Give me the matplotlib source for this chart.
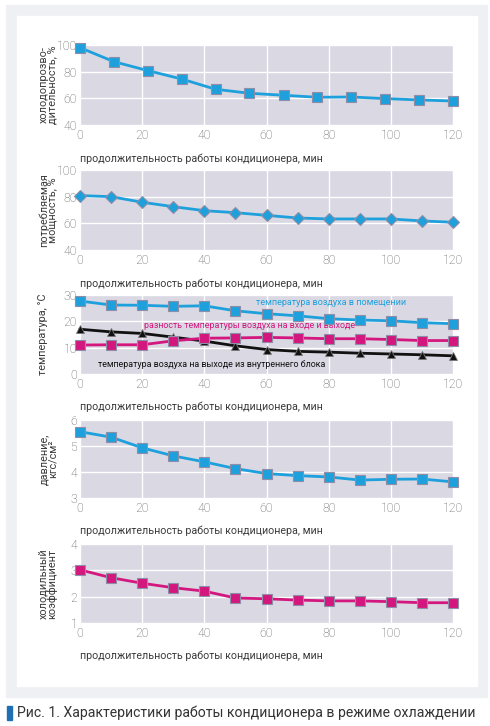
import matplotlib
matplotlib.use("Agg")
import matplotlib.pyplot as plt
from matplotlib.patches import Rectangle
import numpy as np

# ---- data ----
t12 = [0, 10.9, 21.8, 32.7, 43.6, 54.5, 65.5, 76.4, 87.3, 98.2, 109.1, 120]
t13 = [0, 10, 20, 30, 40, 50, 60, 70, 80, 90, 100, 110, 120]

cooling_capacity = [98, 87.5, 80.8, 74.5, 66.8, 63.8, 62.3, 60.8, 61, 59.8, 58.8, 58]
power_consumption = [80.8, 80, 75.8, 72.5, 69.5, 68, 66, 64, 63.3, 63.3, 63.3, 61.8, 60.8]
room_temp = [27.7, 26.2, 26.1, 25.7, 25.9, 24.0, 22.9, 22.1, 21.0, 20.5, 20.2, 19.5, 19.1]
temp_diff = [11.0, 11.1, 11.1, 12.6, 13.6, 13.7, 13.9, 13.7, 13.4, 13.4, 13.1, 12.7, 12.7]
outlet_temp = [17.0, 16.0, 15.4, 14.0, 12.5, 10.7, 9.3, 8.6, 8.3, 7.9, 7.6, 7.3, 6.9]
pressure = [5.55, 5.34, 4.93, 4.62, 4.39, 4.13, 3.94, 3.86, 3.81, 3.69, 3.72, 3.73, 3.62]
cop = [3.02, 2.72, 2.51, 2.34, 2.21, 1.95, 1.92, 1.87, 1.84, 1.84, 1.81, 1.77, 1.77]

xticks = [0, 20, 40, 60, 80, 100, 120]
xlabel = "продолжительность работы кондиционера, мин"
caption = "Рис. 1. Характеристики работы кондиционера в режиме охлаждении"

W, H = 490, 726
BLUE = "#1ea0dc"
PINK = "#d4177e"
BG = "#d9d8e3"
EDGE = "#8e8ea6"
TXT = "#3a3a3a"
TICK = "#5a5a5a"
plt.rcParams["font.family"] = ["Roboto", "DejaVu Sans"]

fig = plt.figure(figsize=(W / 100, H / 100), dpi=100)

def px_rect(x0, y0, x1, y1):
    return [x0 / W, 1 - y1 / H, (x1 - x0) / W, (y1 - y0) / H]

# background panels
fig.patches.append(Rectangle((6 / W, 1 - 697 / H), 481 / W, 692 / H,
                             transform=fig.transFigure, color="#eef0f4", zorder=-10))
fig.patches.append(Rectangle((17 / W, 1 - 686 / H), 460 / W, 670 / H,
                             transform=fig.transFigure, color="white", zorder=-9))

def make_ax(y0, y1, ylim, yticks, ylabel, ylabel_x):
    ax = fig.add_axes(px_rect(80, y0, 453, y1))
    ax.set_facecolor(BG)
    ax.set_xlim(0, 120)
    ax.set_ylim(*ylim)
    ax.set_xticks(xticks)
    ax.set_yticks(yticks)
    for s in ax.spines.values():
        s.set_visible(False)
    ax.tick_params(length=0, labelsize=8.8, labelcolor=TICK, pad=2)
    ax.tick_params(axis="x", pad=3)
    ax.grid(True, color="white", linewidth=1.0)
    ax.set_axisbelow(True)
    for lab in ax.get_xticklabels() + ax.get_yticklabels():
        lab.set_fontweight("light")
    ax.text(0, -0.42, xlabel, transform=ax.transAxes, fontsize=7.7,
            color=TXT, ha="left", va="center")
    fig.text(ylabel_x / W, 1 - ((y0 + y1) / 2) / H, ylabel, rotation=90,
             ha="center", va="center", fontsize=7.8, color=TXT, linespacing=0.85)
    return ax

mk = dict(markeredgecolor=EDGE, markeredgewidth=0.8, linewidth=2, clip_on=False)

ax1 = make_ax(45, 125, (40, 100), [40, 60, 80, 100], "холодопрозво-\nдительность, %", 48)
ax1.plot(t12, cooling_capacity, color=BLUE, marker="s", markersize=6.5,
         markerfacecolor=BLUE, **mk)

ax2 = make_ax(170, 250, (40, 100), [40, 60, 80, 100], "потребляемая\nмощность, %", 48)
ax2.plot(t13, power_consumption, color=BLUE, marker="D", markersize=6,
         markerfacecolor=BLUE, **mk)

ax3 = make_ax(295, 374, (0, 30), [0, 10, 20, 30], "температура, °С", 43)
ax3.plot(t13, outlet_temp, color="#111111", marker="^", markersize=6,
         markerfacecolor="#111111", markeredgecolor="#777777",
         markeredgewidth=0.6, linewidth=2, clip_on=False, zorder=3)
ax3.plot(t13, temp_diff, color=PINK, marker="s", markersize=6.5,
         markerfacecolor=PINK, zorder=4, **mk)
ax3.plot(t13, room_temp, color=BLUE, marker="s", markersize=6.5,
         markerfacecolor=BLUE, zorder=4, **mk)
ax3.text(80.8, 27.1, "температура воздуха в помещении", color=BLUE,
         fontsize=6.5, ha="center", va="center")
ax3.text(54.5, 18.4, "разность температуры воздуха на входе и выходе", color=PINK,
         fontsize=6.4, ha="center", va="center")
ax3.text(42.3, 3.5, "температура воздуха на выходе из внутреннего блока",
         color="#111111", fontsize=6.4, ha="center", va="center")

ax4 = make_ax(420, 498, (3, 6), [3, 4, 5, 6], "давление,\nкгс/см²", 48)
ax4.plot(t13, pressure, color=BLUE, marker="s", markersize=6.5,
         markerfacecolor=BLUE, **mk)

ax5 = make_ax(544, 623, (1, 4), [1, 2, 3, 4], "холодильный\nкоэффициент", 48)
ax5.plot(t13, cop, color=PINK, marker="s", markersize=6.5,
         markerfacecolor=PINK, **mk)

# caption
fig.patches.append(Rectangle((7 / W, 1 - 720 / H), 5 / W, 14 / H,
                             transform=fig.transFigure, color="#1f6fb5"))
fig.text(17 / W, 1 - 713 / H, caption, fontsize=10.1, color="#333333",
         ha="left", va="center")

fig.savefig("out.png", dpi=100)
